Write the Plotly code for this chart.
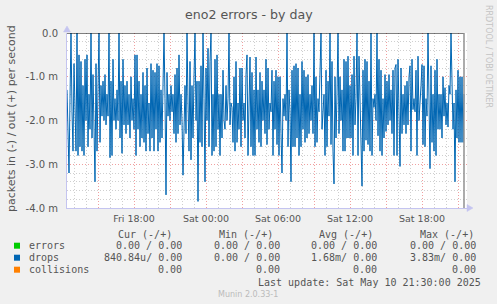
import plotly.graph_objects as go
import pandas as pd

# ---------------- data ----------------
title_text = "eno2 errors - by day"
y_title = "packets in (-) / out (+) per second"
last_update = "2025-05-10 21:30:00"

# drops, inbound (drawn negative), in milli-packets per second, 5-minute samples
drops_in_m = [
    -1.3, -2.4, -3.2, -1.5, 0.0, -1.8, -2.7, -0.7, -1.9, -2.7, 0.0, -2.8, -0.5, -2.6, -0.65, -2.7, -1.2, -2.8, -0.6, -2.0,
    -0.5, -2.6, -1.4, -2.2, 0.0, -2.4, -0.95, -2.0, -3.4, -0.7, -2.7, -1.3, 0.0, -2.5, -1.2, -1.9, -1.1, -2.0, -0.95, -2.1,
    -1.4, -1.9, 0.0, -2.85, -1.1, -2.8, -0.6, -2.0, -1.5, -2.2, -1.3, -2.0, 0.0, -2.4, -1.1, -2.75, -0.6, -2.1, -1.2, -2.3,
    -1.1, -2.1, -1.4, -2.4, -1.0, -2.0, -1.5, -2.2, -0.5, -2.8, -0.5, -2.2, -1.1, -2.6, -1.4, -2.4, -0.9, -2.5, -1.2, -2.7,
    -0.8, -2.3, -1.6, -2.7, -0.7, -2.4, -0.85, -2.7, -0.9, -2.2, -0.7, -2.7, -0.75, -2.5, -1.3, -2.4, -1.0, 0.0, -1.5, -3.7,
    -0.9, -1.9, -1.4, -2.0, -1.2, -1.8, -1.4, -2.3, -0.95, -2.5, -0.8, -2.3, -0.5, -2.1, -1.4, -2.0, -3.25, -1.8, -1.2, -2.3,
    0.0, -1.6, -2.7, -0.65, -2.9, -1.2, -2.4, -1.0, 0.0, -2.0, -1.1, -3.85, -1.1, -2.5, -0.75, -2.6, 0.0, -1.5, -3.4, -0.8,
    -2.0, -0.35, -2.6, -0.65, 0.0, -2.8, -1.4, -2.7, -0.6, -2.6, -0.5, -2.2, -1.4, -2.8, -1.4, -2.4, -0.85, -2.0, -2.2, -1.2,
    -2.0, -1.5, 0.0, -2.1, -1.6, -1.7, -2.5, -1.0, -2.7, -0.65, -2.5, -1.6, -2.2, -0.8, -2.6, -0.8, -2.0, -1.6, -2.4, -0.95,
    -0.5, -2.8, -1.1, -0.55, -2.6, -0.9, -2.8, -1.3, -2.8, -0.55, -2.2, -1.3, -2.5, -0.9, -2.6, -1.1, -2.0, -1.3, -2.3, -0.6,
    -2.55, -0.8, -2.2, -1.6, -1.8, -0.85, -2.8, -1.1, -2.2, -0.85, -2.55, -1.0, -2.8, -1.0, -2.3, -3.2, -1.5, -1.9, -1.4, -2.0,
    0.0, -2.6, -1.3, -1.8, -3.4, -0.85, -2.6, -0.75, -2.6, -0.7, -2.4, -0.8, -2.8, -1.4, -2.6, -0.65, -2.2, -0.85, -2.5, -1.0,
    -2.4, -0.95, -2.3, -1.4, -2.0, -1.2, -2.3, 0.0, -2.6, -1.0, -2.5, -1.5, -1.8, -1.0, 0.0, -2.2, -1.8, -1.4, -2.8, -0.85,
    -2.6, -1.1, -1.9, 0.0, -2.55, -0.65, -2.7, -3.45, -1.0, -2.4, -1.4, 0.0, -2.3, -1.0, -2.0, -1.3, -2.7, -0.6, -2.7, -0.65,
    -2.4, -0.53, -2.4, -1.2, -2.4, -0.95, -2.8, -0.53, -2.1, -1.5, 0.0, -2.8, -0.53, -1.8, -2.4, -3.5, -0.85, -2.7, -0.6, -2.45,
    -0.65, -2.55, -1.1, -2.7, 0.0, -2.8, -1.5, -1.7, -1.4, -2.0, 0.0, -2.35, -0.6, -2.7, -0.85, -2.8, -1.5, -2.4, -0.95, -2.25,
    -1.1, -2.1, -0.95, -2.0, -1.3, -2.3, -0.85, -2.8, -0.8, -0.72, -2.8, -0.6, -1.8, -3.05, -0.8, -2.3, -1.4, -2.1, -1.2, -2.3,
    -1.1, -2.1, -1.0, -0.75, -2.7, -0.6, -1.75, -1.5, -1.8, -0.85, -2.8, -0.53, -2.0, -1.4, -1.2, -0.72, -2.55, -0.75, -2.6, -1.5,
    -1.9, 0.0, -2.0, -3.1, -0.75, -2.5, -1.4, -2.7, -0.85, -2.8, -0.6, -2.2, -1.4, -2.2, -1.4, -2.4, -1.0, -1.9, -1.25, -2.1,
    -1.6, -2.15, -1.2, -1.4, 0.0, -1.6, -2.2, -1.6, -3.4, -1.3, -2.4, -0.85, -2.5, -1.0, -2.5, -1.0, -2.5, -1.4,
]
drops_out_m = [0.0] * len(drops_in_m)

x_range = ["2025-05-09 12:25", "2025-05-10 21:45"]
x_tickvals = ["2025-05-09 15:00", "2025-05-09 18:00", "2025-05-09 21:00", "2025-05-10 00:00",
              "2025-05-10 03:00", "2025-05-10 06:00", "2025-05-10 09:00", "2025-05-10 12:00",
              "2025-05-10 15:00", "2025-05-10 18:00", "2025-05-10 21:00"]
x_ticktext = ["", "Fri 18:00", "", "Sat 00:00", "", "Sat 06:00", "", "Sat 12:00", "", "Sat 18:00", ""]
y_range = [-4, 0]
y_tickvals = [0, -1, -2, -3, -4]
y_ticktext = ["0.0", "-1.0 m", "-2.0 m", "-3.0 m", "-4.0 m"]

legend_names = ["errors", "drops", "collisions"]
legend_colors = ["#00CC00", "#0066B3", "#FF8000"]
col_headers = ["Cur (-/+)", "Min (-/+)", "Avg (-/+)", "Max (-/+)"]
cur_vals = ["0.00 / 0.00", "840.84u/ 0.00", "0.00"]
min_vals = ["0.00 / 0.00", "0.00 / 0.00", "0.00"]
avg_vals = ["0.00 / 0.00", "1.68m/ 0.00", "0.00"]
max_vals = ["0.00 / 0.00", "3.83m/ 0.00", "0.00"]
last_update_text = "Last update: Sat May 10 21:30:00 2025"
munin_text = "Munin 2.0.33-1"
rrd_text = "RRDTOOL / TOBI OETIKER"

# ---------------- figure ----------------
W, H = 497, 304
L, R, T, B = 67, 467, 33, 208


def px(x):
    return (x - L) / (R - L)


def py(y):
    return (B - y) / (B - T)


times = pd.date_range(end=last_update, periods=len(drops_in_m), freq="5min")

fig = go.Figure()
fig.add_trace(go.Scatter(x=times, y=drops_in_m, mode="lines",
                         line=dict(color="#0066B3", width=1), hoverinfo="skip"))
fig.add_trace(go.Scatter(x=times, y=drops_out_m, mode="lines",
                         line=dict(color="#000000", width=1), hoverinfo="skip"))
fig.add_vline(x=times[-1], line=dict(color="#909090", width=1.5))

AX = "#C4C4F0"
FONT = "DejaVu Sans"
MONO = "DejaVu Sans Mono"
TXT = "#555555"

fig.update_layout(
    width=W, height=H,
    margin=dict(l=L, r=W - R, t=T, b=H - B),
    paper_bgcolor="#F0F0F0", plot_bgcolor="#FFFFFF",
    showlegend=False,
    font=dict(family=FONT, color=TXT),
    xaxis=dict(
        type="date", range=x_range, tickmode="array", tickvals=x_tickvals, ticktext=x_ticktext,
        showgrid=True, gridcolor="#F0A0A0", griddash="1px,2px", gridwidth=1,
        minor=dict(tickmode="linear", tick0="2025-05-09 00:00", dtick=3600000,
                   showgrid=True, gridcolor="#CFCFCF", griddash="1px,2px", gridwidth=1),
        showline=True, linecolor=AX, linewidth=1, zeroline=False,
        ticks="", tickfont=dict(size=9.5, color=TXT, family=FONT), ticklabelstandoff=2,
    ),
    yaxis=dict(
        range=y_range, tickmode="array", tickvals=y_tickvals, ticktext=y_ticktext,
        showgrid=True, gridcolor="#F0A0A0", griddash="1px,2px", gridwidth=1,
        minor=dict(tickmode="linear", tick0=0, dtick=0.2,
                   showgrid=True, gridcolor="#CFCFCF", griddash="1px,2px", gridwidth=1),
        showline=True, linecolor=AX, linewidth=1, zeroline=False,
        ticks="", tickfont=dict(size=10, color=TXT, family=FONT), ticklabelstandoff=6,
    ),
)

# axis arrows
fig.add_shape(type="path", xref="paper", yref="paper",
              path=f"M {px(67)},{py(26)} L {px(63.5)},{py(32)} L {px(70.5)},{py(32)} Z",
              fillcolor=AX, line=dict(color=AX, width=0.5))
fig.add_shape(type="path", xref="paper", yref="paper",
              path=f"M {px(473)},{py(208)} L {px(467)},{py(204.5)} L {px(467)},{py(211.5)} Z",
              fillcolor=AX, line=dict(color=AX, width=0.5))

ann = []
ann.append(dict(text=title_text, x=px(249), y=py(14), font=dict(size=12.6, color=TXT, family=FONT)))
ann.append(dict(text=y_title, x=px(11), y=py(119), textangle=-90,
                font=dict(size=11, color=TXT, family=FONT)))
ann.append(dict(text=rrd_text, x=px(488.5), y=py(56.5), textangle=90,
                font=dict(size=8, color="#C4C4C4", family=FONT)))

header_right = [174, 275, 375, 476]
value_right = [184, 282, 379, 478]
for hdr, xr in zip(col_headers, header_right):
    ann.append(dict(text=hdr, x=px(xr), y=py(234), xanchor="right",
                    font=dict(size=10, color=TXT, family=MONO)))

row_y = [245.7, 257.7, 269.7]
for i, name in enumerate(legend_names):
    ann.append(dict(text=name, x=px(27), y=py(row_y[i]), xanchor="left",
                    font=dict(size=10, color=TXT, family=MONO)))
    fig.add_shape(type="rect", xref="paper", yref="paper",
                  x0=px(14), x1=px(20), y0=py(row_y[i] + 3), y1=py(row_y[i] - 3),
                  fillcolor=legend_colors[i], line=dict(width=0))
    for vals, xr in zip([cur_vals, min_vals, avg_vals, max_vals], value_right):
        ann.append(dict(text=vals[i], x=px(xr), y=py(row_y[i]), xanchor="right",
                        font=dict(size=10, color=TXT, family=MONO)))

ann.append(dict(text=last_update_text, x=px(483), y=py(282), xanchor="right",
                font=dict(size=10, color=TXT, family=MONO)))
ann.append(dict(text=munin_text, x=px(248), y=py(294),
                font=dict(size=8, color="#BBBBBB", family=FONT)))

for a in ann:
    a.setdefault("xanchor", "center")
    a.update(xref="paper", yref="paper", yanchor="middle", showarrow=False)
fig.update_layout(annotations=ann)

fig.write_html("out.html")
